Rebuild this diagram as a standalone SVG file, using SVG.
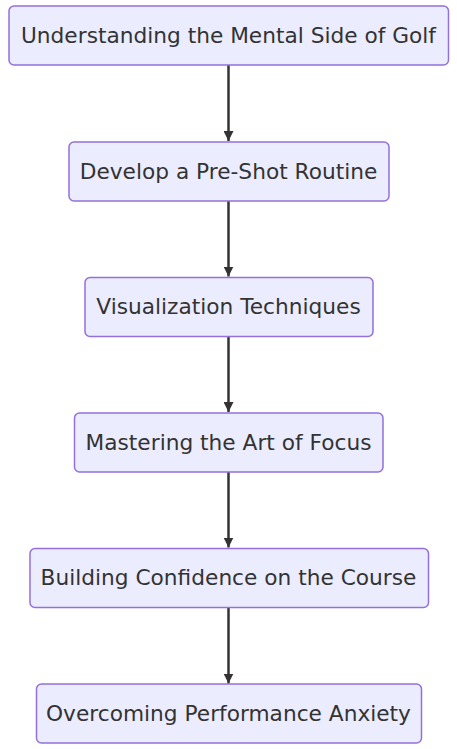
<svg xmlns="http://www.w3.org/2000/svg" width="457" height="749" viewBox="0 0 457 749">
<style>
.node rect{fill:#ECECFF;stroke:#9370DB;stroke-width:1.5px;}
.node text{font-family:"DejaVu Sans",sans-serif;font-size:21.7px;fill:#333;text-anchor:middle;}
.edge{stroke:#333;stroke-width:2.5px;fill:none;}
</style>
<defs>
<marker id="arrow" viewBox="0 0 10 10" refX="10" refY="5" markerWidth="10" markerHeight="10" markerUnits="userSpaceOnUse" orient="auto">
<path d="M0,0 L10,5 L0,10 z" fill="#333"/>
</marker>
</defs>
<rect width="457" height="749" fill="#fff"/>
<g id="connectors">
<path class="edge" d="M228.5,65 L228.5,141" marker-end="url(#arrow)"/>
<path class="edge" d="M228.5,201 L228.5,276.5" marker-end="url(#arrow)"/>
<path class="edge" d="M228.5,336.5 L228.5,412" marker-end="url(#arrow)"/>
<path class="edge" d="M228.5,472 L228.5,547.5" marker-end="url(#arrow)"/>
<path class="edge" d="M228.5,607.5 L228.5,683.5" marker-end="url(#arrow)"/>
</g>
<g id="n1" class="node"><rect x="9" y="6" width="439.5" height="59" rx="5"/><text x="228.5" y="42.5">Understanding the Mental Side of Golf</text></g>
<g id="n2" class="node"><rect x="69" y="142" width="320" height="59" rx="5"/><text x="228.5" y="178.5">Develop a Pre-Shot Routine</text></g>
<g id="n3" class="node"><rect x="85" y="277.5" width="288" height="59" rx="5"/><text x="228.5" y="314">Visualization Techniques</text></g>
<g id="n4" class="node"><rect x="74.5" y="413" width="308.5" height="59" rx="5"/><text x="228.5" y="449.5">Mastering the Art of Focus</text></g>
<g id="n5" class="node"><rect x="30" y="548.5" width="398.5" height="59" rx="5"/><text x="228.5" y="585">Building Confidence on the Course</text></g>
<g id="n6" class="node"><rect x="36.5" y="684" width="385" height="59" rx="5"/><text x="228.5" y="720.5">Overcoming Performance Anxiety</text></g>
</svg>
